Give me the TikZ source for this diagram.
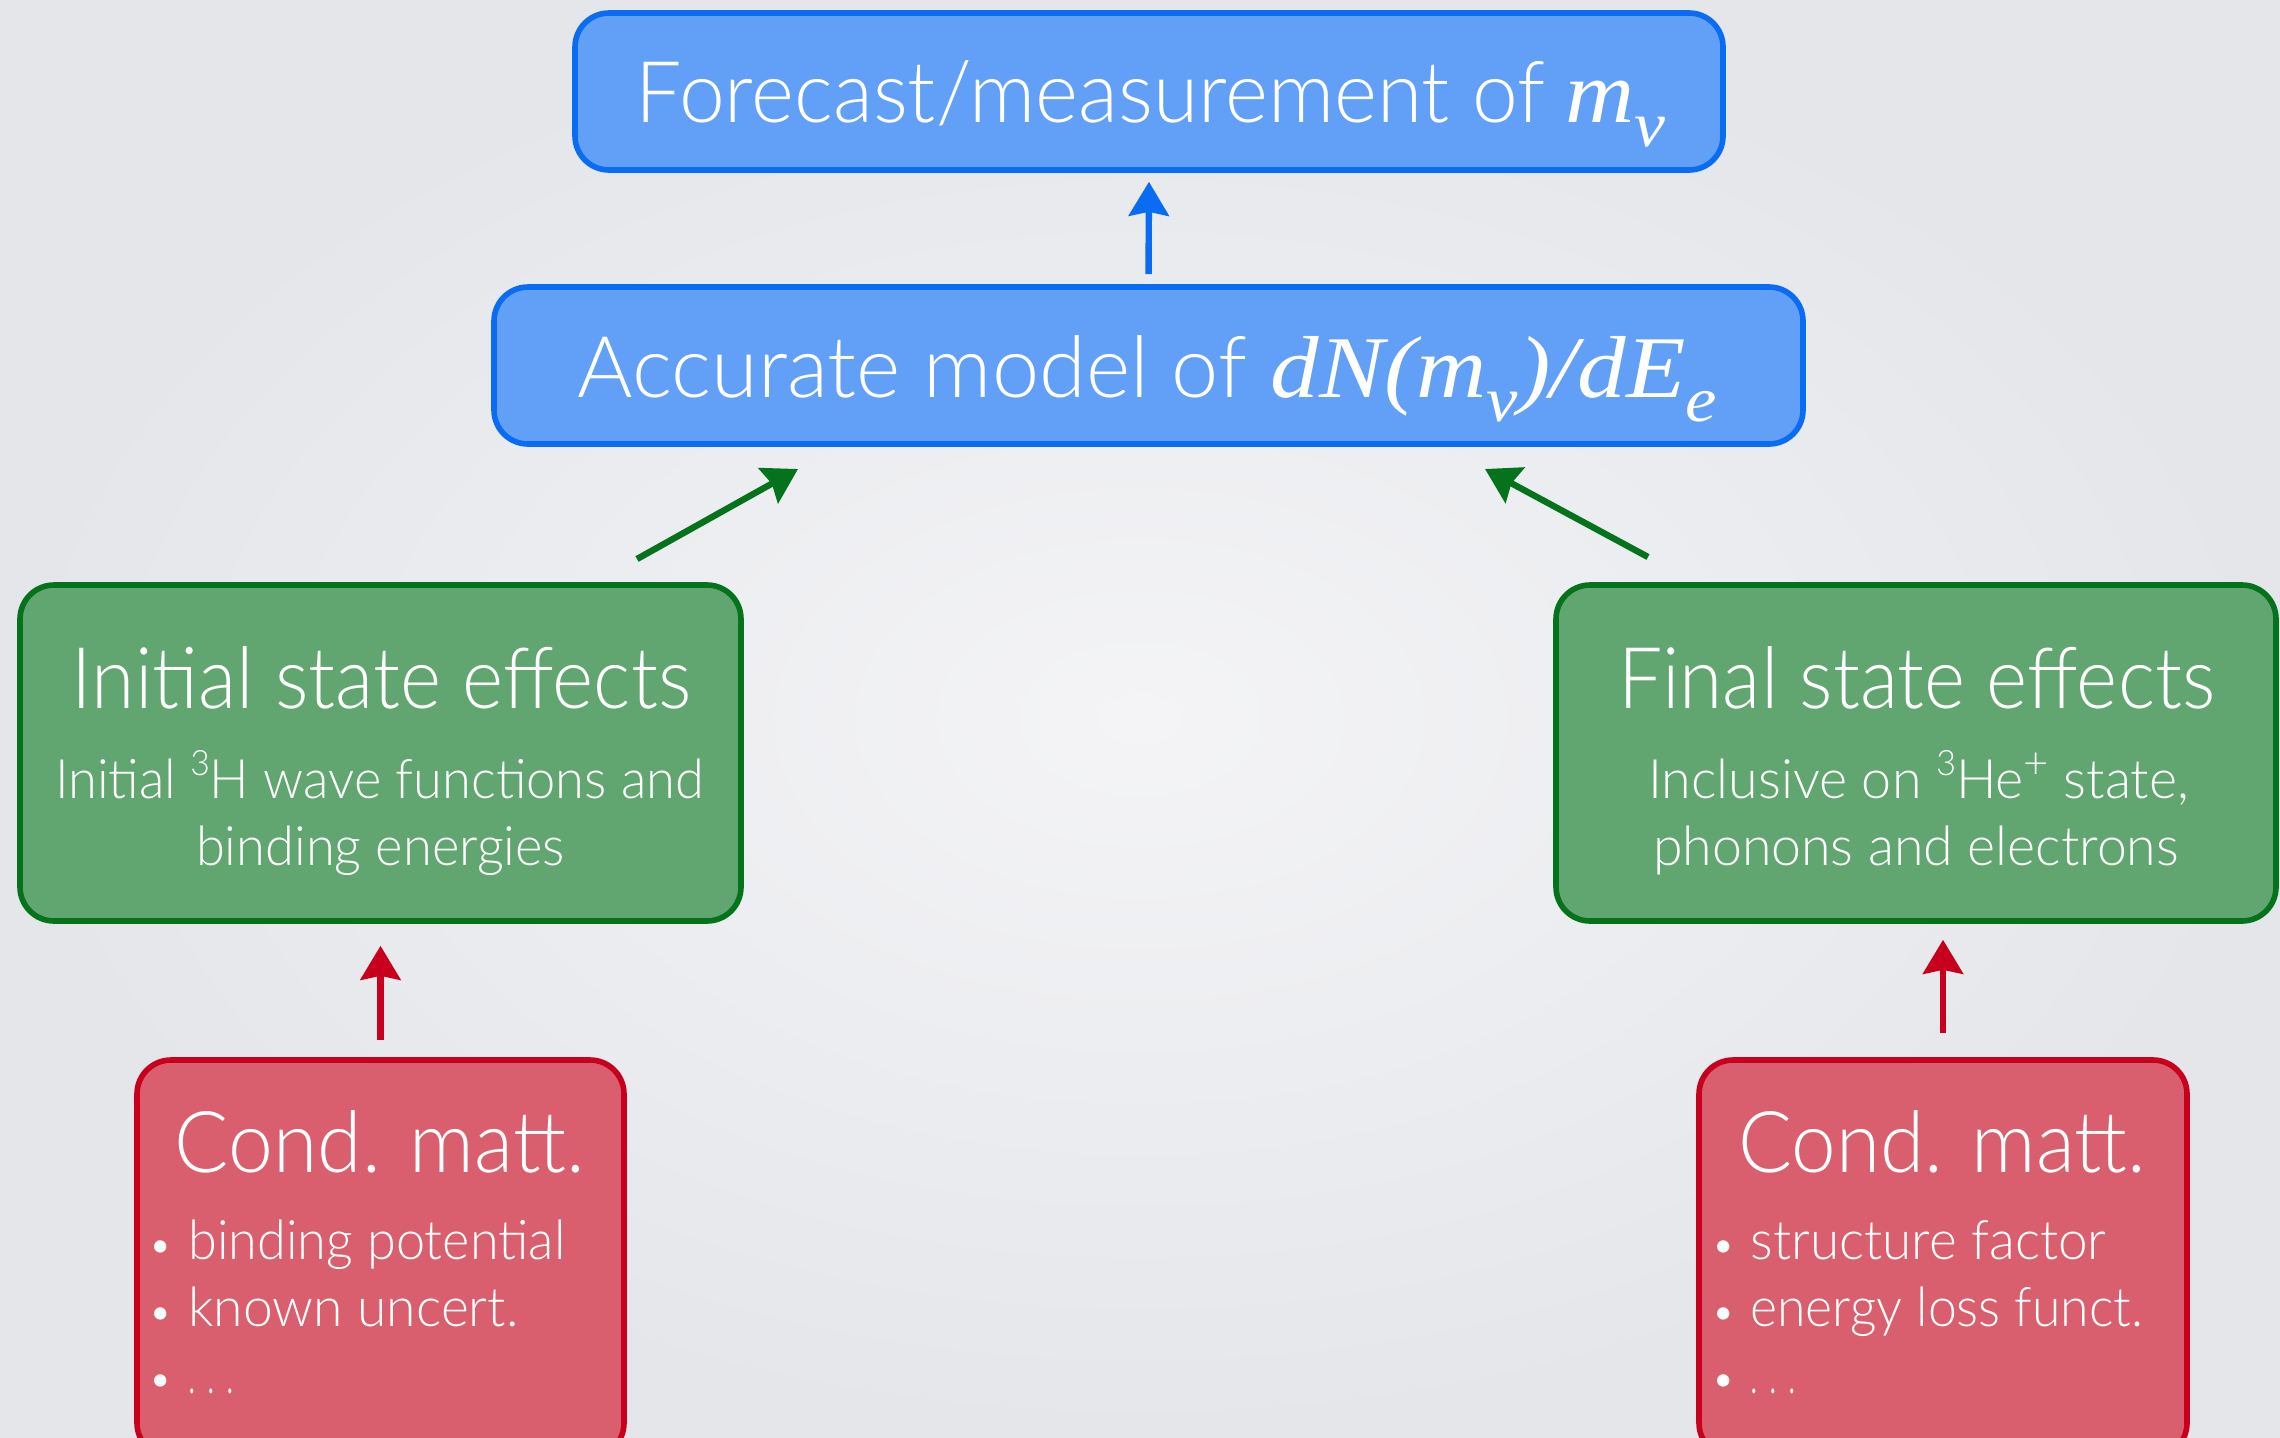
\documentclass[tikz,border=0pt]{standalone}
\usepackage{fontspec}
\usepackage{graphicx}
\setmainfont{Lato}[UprightFont=* Light]
\newfontfamily\serifface{Liberation Serif}
\usetikzlibrary{arrows.meta}

\definecolor{bgin}{HTML}{F4F4F6}
\definecolor{bgout}{HTML}{E4E6EA}
\definecolor{bluefill}{HTML}{61A0F6}
\definecolor{blueline}{HTML}{0A6CF2}
\definecolor{greenfill}{HTML}{61A570}
\definecolor{greenline}{HTML}{05731C}
\definecolor{redfill}{HTML}{D95F6E}
\definecolor{redline}{HTML}{C8001E}

\newcommand\fitw[2]{\resizebox{#1}{\height}{#2}}
\newcommand\msub[1]{\raisebox{-12pt}{\fontsize{32}{32}\selectfont #1}}
\newcommand\tsup[1]{\raisebox{11.5pt}{\fontsize{17.5}{17.5}\selectfont #1}}
\newcommand\tsupplus{\raisebox{10pt}{\fontsize{22}{22}\selectfont +}}
\newcommand\serifmath[1]{{\serifface\itshape\fontsize{44}{50}\selectfont #1}}

\tikzset{
  box/.style={rectangle, line width=2.8pt, rounded corners=17pt, inner sep=0pt},
  bluebox/.style={box, draw=blueline, fill=bluefill, minimum width=574pt, minimum height=78.5pt},
  greenbox/.style={box, draw=greenline, fill=greenfill, minimum width=360.5pt, minimum height=168pt},
  redbox/.style={box, draw=redline, fill=redfill, minimum width=243.5pt, minimum height=198.5pt},
  big/.style={text=white, inner sep=0pt, anchor=base, font=\fontsize{42.6}{50}\selectfont},
  small/.style={text=white, inner sep=0pt, anchor=base, font=\fontsize{27.2}{32}\selectfont},
  dotmark/.style={text=white, inner sep=0pt, anchor=base, font=\fontsize{21}{24}\selectfont},
  bullettext/.style={small, anchor=base west},
  arr/.style={line width=3.2pt, -{Stealth[width=20pt, length=17pt, inset=2pt]}},
}

\begin{document}
\begin{tikzpicture}[x=0.5pt, y=-0.5pt]
\useasboundingbox (0,0) rectangle (2280,1437);
\clip (0,0) rectangle (2280,1437);
\shade[inner color=bgin, outer color=bgout] (0,0) rectangle (2280,1437);

% boxes
\node[bluebox] (fore) at (1149,91.5) {};
\node[bluebox, minimum width=654.5pt] (acc) at (1148.5,365.5) {};
\node[greenbox] (gl) at (380.5,753) {};
\node[greenbox, minimum width=360pt] (gr) at (1916,753) {};
\node[redbox] (rl) at (380.5,1258.5) {};
\node[redbox, minimum width=244pt] (rr) at (1943,1258.5) {};

% texts
\node[big] (foreT) at (1150.5,122) {\fitw{454.5pt}{Forecast/measurement of}\hspace{10pt}\fitw{50pt}{\serifmath{m\msub{ν}}}};
\node[big] (accT) at (1147.5,397) {\fitw{334.5pt}{Accurate model of}\hspace{12pt}\fitw{223pt}{\serifmath{dN(m\msub{ν})/dE\msub{e}}}};

\node[big] (glT1) at (381.5,708) {\fitw{309.5pt}{Initial state effects}};
\node[small] (glT2) at (379.5,798) {\fitw{324.5pt}{Initial \tsup{3}H wave functions and}};
\node[small] (glT3) at (380.5,865) {\fitw{184.5pt}{binding energies}};

\node[big] (grT1) at (1916.5,708) {\fitw{298.5pt}{Final state effects}};
\node[small] (grT2) at (1918.5,798) {\fitw{270.5pt}{Inclusive on \tsup{3}He\tsupplus{} state,}};
\node[small] (grT3) at (1916,865) {\fitw{263pt}{phonons and electrons}};

\node[big] (rlT) at (380,1172) {\fitw{205pt}{Cond. matt.}};
\node[big] (rrT) at (1942,1172) {\fitw{204pt}{Cond. matt.}};

\node[dotmark] (rlb1) at (161,1259) {•};
\node[dotmark] (rlb2) at (161,1326) {•};
\node[dotmark] (rlb3) at (161,1393) {•};
\node[bullettext] (rlL1) at (188,1259) {\fitw{188.5pt}{binding potential}};
\node[bullettext] (rlL2) at (188,1326) {\fitw{165pt}{known uncert.}};
\node[bullettext] (rlL3) at (188,1393) {\fitw{23pt}{. . .}};

\node[dotmark] (rrb1) at (1724,1259) {•};
\node[dotmark] (rrb2) at (1724,1326) {•};
\node[dotmark] (rrb3) at (1724,1393) {•};
\node[bullettext] (rrL1) at (1750,1259) {\fitw{178pt}{structure factor}};
\node[bullettext] (rrL2) at (1750,1326) {\fitw{196.5pt}{energy loss funct.}};
\node[bullettext] (rrL3) at (1750,1393) {\fitw{23pt}{. . .}};

% connectors
\draw[arr, blueline, shorten <=5pt, shorten >=4.5pt] (acc.north) -- (fore.south);

\coordinate (gla) at (637,559);
\coordinate (glb) at (798,469);
\coordinate (gra) at (1648,557);
\coordinate (grb) at (1485,469);
\draw[arr, greenline] (gla) -- (glb);
\draw[arr, greenline] (gra) -- (grb);

\draw[arr, redline, shorten <=8.5pt, shorten >=11pt] (rl.north) -- (rl.north |- gl.south);
\draw[arr, redline, shorten <=12pt, shorten >=8pt] (rr.north) -- (rr.north |- gr.south);
\end{tikzpicture}
\end{document}
